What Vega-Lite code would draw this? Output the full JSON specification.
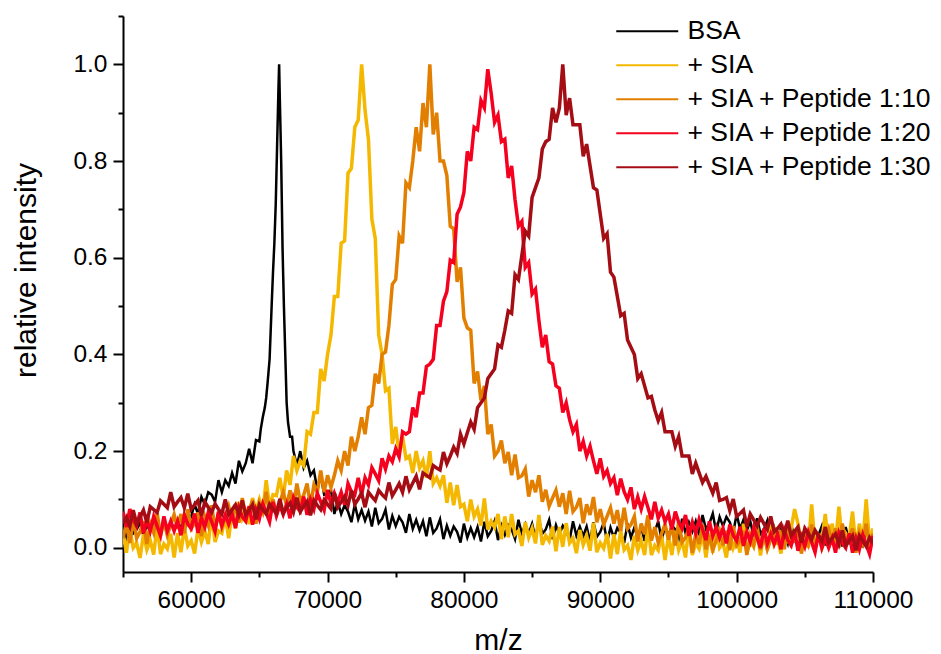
{
"$schema":"https://vega.github.io/schema/vega-lite/v6.json",
"width":750,"height":556,
"autosize":{"type":"none"},
"padding":{"left":123,"top":16,"right":68,"bottom":82},
"background":"white",
"config":{"view":{"stroke":null},"font":"Liberation Sans"},
"datasets":{
"bsa":[
{"x":55000,"y":0.04},{"x":55250,"y":0.021},{"x":55500,"y":0.05},{"x":55750,"y":0.03},
{"x":56000,"y":0.038},{"x":56250,"y":0.052},{"x":56500,"y":0.025},{"x":56750,"y":0.046},
{"x":57000,"y":0.035},{"x":57250,"y":0.05},{"x":57500,"y":0.042},{"x":57750,"y":0.03},
{"x":58000,"y":0.055},{"x":58250,"y":0.038},{"x":58500,"y":0.052},{"x":58750,"y":0.04},
{"x":59000,"y":0.055},{"x":59250,"y":0.04},{"x":59500,"y":0.065},{"x":59750,"y":0.05},
{"x":60000,"y":0.065},{"x":60250,"y":0.09},{"x":60500,"y":0.07},{"x":60750,"y":0.105},
{"x":61000,"y":0.09},{"x":61250,"y":0.115},{"x":61500,"y":0.11},{"x":61750,"y":0.095},
{"x":62000,"y":0.14},{"x":62250,"y":0.115},{"x":62500,"y":0.14},{"x":62750,"y":0.128},
{"x":63000,"y":0.155},{"x":63250,"y":0.133},{"x":63500,"y":0.18},{"x":63750,"y":0.158},
{"x":64000,"y":0.175},{"x":64250,"y":0.205},{"x":64500,"y":0.175},{"x":64750,"y":0.223},
{"x":65000,"y":0.22},{"x":65100,"y":0.245},{"x":65250,"y":0.27},{"x":65400,"y":0.29},{"x":65500,"y":0.31},{"x":65600,"y":0.34},{"x":65750,"y":0.39},{"x":65900,"y":0.5},
{"x":66000,"y":0.57},{"x":66100,"y":0.63},{"x":66200,"y":0.71},{"x":66250,"y":0.77},{"x":66300,"y":0.83},{"x":66400,"y":0.95},{"x":66450,"y":1.0},{"x":66500,"y":0.93},{"x":66600,"y":0.8},{"x":66700,"y":0.62},{"x":66750,"y":0.56},{"x":66800,"y":0.5},{"x":66900,"y":0.4},
{"x":67000,"y":0.3},{"x":67100,"y":0.26},{"x":67250,"y":0.23},{"x":67400,"y":0.23},{"x":67500,"y":0.2},{"x":67750,"y":0.17},
{"x":68000,"y":0.2},{"x":68250,"y":0.165},{"x":68500,"y":0.18},{"x":68750,"y":0.15},
{"x":69000,"y":0.16},{"x":69250,"y":0.12},{"x":69500,"y":0.15},{"x":69750,"y":0.11},
{"x":70000,"y":0.11},{"x":70250,"y":0.12},{"x":70500,"y":0.07},{"x":70750,"y":0.095},
{"x":71000,"y":0.07},{"x":71250,"y":0.088},{"x":71500,"y":0.075},{"x":71750,"y":0.053},
{"x":72000,"y":0.09},{"x":72250,"y":0.059},{"x":72500,"y":0.078},{"x":72750,"y":0.056},
{"x":73000,"y":0.075},{"x":73250,"y":0.044},{"x":73500,"y":0.083},{"x":73750,"y":0.051},
{"x":74000,"y":0.06},{"x":74250,"y":0.079},{"x":74500,"y":0.038},{"x":74750,"y":0.066},
{"x":75000,"y":0.045},{"x":75250,"y":0.064},{"x":75500,"y":0.053},{"x":75750,"y":0.031},
{"x":76000,"y":0.07},{"x":76250,"y":0.039},{"x":76500,"y":0.058},{"x":76750,"y":0.036},
{"x":77000,"y":0.055},{"x":77250,"y":0.024},{"x":77500,"y":0.063},{"x":77750,"y":0.031},
{"x":78000,"y":0.04},{"x":78250,"y":0.059},{"x":78500,"y":0.018},{"x":78750,"y":0.046},
{"x":79000,"y":0.025},{"x":79250,"y":0.044},{"x":79500,"y":0.033},{"x":79750,"y":0.011},
{"x":80000,"y":0.05},{"x":80250,"y":0.021},{"x":80500,"y":0.041},{"x":80750,"y":0.022},
{"x":81000,"y":0.043},{"x":81250,"y":0.013},{"x":81500,"y":0.054},{"x":81750,"y":0.024},
{"x":82000,"y":0.035},{"x":82250,"y":0.055},{"x":82500,"y":0.016},{"x":82750,"y":0.046},
{"x":83000,"y":0.027},{"x":83250,"y":0.047},{"x":83500,"y":0.038},{"x":83750,"y":0.018},
{"x":84000,"y":0.058},{"x":84250,"y":0.029},{"x":84500,"y":0.049},{"x":84750,"y":0.03},
{"x":85000,"y":0.05},{"x":85250,"y":0.02},{"x":85500,"y":0.059},{"x":85750,"y":0.029},
{"x":86000,"y":0.038},{"x":86250,"y":0.058},{"x":86500,"y":0.018},{"x":86750,"y":0.047},
{"x":87000,"y":0.027},{"x":87250,"y":0.046},{"x":87500,"y":0.036},{"x":87750,"y":0.015},
{"x":88000,"y":0.055},{"x":88250,"y":0.025},{"x":88500,"y":0.044},{"x":88750,"y":0.024},
{"x":89000,"y":0.044},{"x":89250,"y":0.013},{"x":89500,"y":0.053},{"x":89750,"y":0.023},
{"x":90000,"y":0.033},{"x":90250,"y":0.052},{"x":90500,"y":0.012},{"x":90750,"y":0.042},
{"x":91000,"y":0.021},{"x":91250,"y":0.041},{"x":91500,"y":0.031},{"x":91750,"y":0.01},
{"x":92000,"y":0.05},{"x":92250,"y":0.021},{"x":92500,"y":0.042},{"x":92750,"y":0.022},
{"x":93000,"y":0.043},{"x":93250,"y":0.014},{"x":93500,"y":0.055},{"x":93750,"y":0.025},
{"x":94000,"y":0.034},{"x":94250,"y":0.055},{"x":94500,"y":0.015},{"x":94750,"y":0.045},
{"x":95000,"y":0.025},{"x":95250,"y":0.046},{"x":95500,"y":0.038},{"x":95750,"y":0.019},
{"x":96000,"y":0.06},{"x":96250,"y":0.031},{"x":96500,"y":0.053},{"x":96750,"y":0.034},
{"x":97000,"y":0.055},{"x":97250,"y":0.026},{"x":97500,"y":0.068},{"x":97750,"y":0.039},
{"x":98000,"y":0.05},{"x":98250,"y":0.071},{"x":98500,"y":0.033},{"x":98750,"y":0.064},
{"x":99000,"y":0.045},{"x":99250,"y":0.064},{"x":99500,"y":0.053},{"x":99750,"y":0.031},
{"x":100000,"y":0.07},{"x":100250,"y":0.039},{"x":100500,"y":0.058},{"x":100750,"y":0.036},
{"x":101000,"y":0.055},{"x":101250,"y":0.023},{"x":101500,"y":0.061},{"x":101750,"y":0.029},
{"x":102000,"y":0.038},{"x":102250,"y":0.056},{"x":102500,"y":0.014},{"x":102750,"y":0.042},
{"x":103000,"y":0.02},{"x":103250,"y":0.04},{"x":103500,"y":0.029},{"x":103750,"y":0.009},
{"x":104000,"y":0.049},{"x":104250,"y":0.018},{"x":104500,"y":0.038},{"x":104750,"y":0.018},
{"x":105000,"y":0.037},{"x":105250,"y":0.007},{"x":105500,"y":0.047},{"x":105750,"y":0.016},
{"x":106000,"y":0.026},{"x":106250,"y":0.045},{"x":106500,"y":0.005},{"x":106750,"y":0.035},
{"x":107000,"y":0.014},{"x":107250,"y":0.034},{"x":107500,"y":0.024},{"x":107750,"y":0.003},
{"x":108000,"y":0.043},{"x":108250,"y":0.013},{"x":108500,"y":0.032},{"x":108750,"y":0.012},
{"x":109000,"y":0.031},{"x":109250,"y":0.001},{"x":109500,"y":0.041},{"x":109750,"y":0.01},
{"x":110000,"y":0.02}
],
"sia":[
{"x":55000,"y":0.03},{"x":55250,"y":-0.01},{"x":55500,"y":0.04},{"x":55750,"y":0},
{"x":56000,"y":0.01},{"x":56250,"y":-0.021},{"x":56500,"y":0.028},{"x":56750,"y":-0.004},
{"x":57000,"y":0.015},{"x":57250,"y":-0.014},{"x":57500,"y":0.046},{"x":57750,"y":-0.013},
{"x":58000,"y":0.008},{"x":58250,"y":-0.002},{"x":58500,"y":0.029},{"x":58750,"y":-0.02},
{"x":59000,"y":0.03},{"x":59250,"y":-0.009},{"x":59500,"y":0.042},{"x":59750,"y":0.004},
{"x":60000,"y":0.015},{"x":60250,"y":-0.012},{"x":60500,"y":0.04},{"x":60750,"y":0.012},
{"x":61000,"y":0.035},{"x":61250,"y":0.008},{"x":61500,"y":0.07},{"x":61750,"y":0.012},
{"x":62000,"y":0.035},{"x":62250,"y":0.03},{"x":62500,"y":0.065},{"x":62750,"y":0.02},
{"x":63000,"y":0.075},{"x":63250,"y":0.04},{"x":63500,"y":0.095},{"x":63750,"y":0.06},
{"x":64000,"y":0.075},{"x":64250,"y":0.049},{"x":64500,"y":0.103},{"x":64750,"y":0.076},
{"x":65000,"y":0.1},{"x":65250,"y":0.075},{"x":65500,"y":0.14},{"x":65750,"y":0.085},
{"x":66000,"y":0.11},{"x":66250,"y":0.108},{"x":66500,"y":0.145},{"x":66750,"y":0.103},
{"x":67000,"y":0.16},{"x":67250,"y":0.13},{"x":67500,"y":0.19},{"x":67750,"y":0.16},
{"x":68000,"y":0.18},{"x":68250,"y":0.17},{"x":68500,"y":0.24},{"x":68750,"y":0.235},
{"x":69000,"y":0.28},{"x":69250,"y":0.28},{"x":69500,"y":0.37},{"x":69750,"y":0.345},
{"x":70000,"y":0.4},{"x":70250,"y":0.44},{"x":70500,"y":0.52},{"x":70750,"y":0.52},
{"x":71000,"y":0.63},{"x":71250,"y":0.635},{"x":71500,"y":0.775},{"x":71750,"y":0.785},
{"x":72000,"y":0.87},{"x":72250,"y":0.885},{"x":72500,"y":1.0},{"x":72750,"y":0.905},
{"x":73000,"y":0.845},{"x":73250,"y":0.68},{"x":73500,"y":0.64},{"x":73750,"y":0.44},
{"x":74000,"y":0.4},{"x":74250,"y":0.325},{"x":74500,"y":0.33},{"x":74750,"y":0.215},
{"x":75000,"y":0.25},{"x":75250,"y":0.195},{"x":75500,"y":0.23},{"x":75750,"y":0.185},
{"x":76000,"y":0.19},{"x":76250,"y":0.155},{"x":76500,"y":0.2},{"x":76750,"y":0.165},
{"x":77000,"y":0.18},{"x":77250,"y":0.145},{"x":77500,"y":0.2},{"x":77750,"y":0.133},
{"x":78000,"y":0.145},{"x":78250,"y":0.128},{"x":78500,"y":0.15},{"x":78750,"y":0.093},
{"x":79000,"y":0.135},{"x":79250,"y":0.088},{"x":79500,"y":0.13},{"x":79750,"y":0.085},
{"x":80000,"y":0.09},{"x":80250,"y":0.055},{"x":80500,"y":0.1},{"x":80750,"y":0.065},
{"x":81000,"y":0.08},{"x":81250,"y":0.046},{"x":81500,"y":0.102},{"x":81750,"y":0.038},
{"x":82000,"y":0.055},{"x":82250,"y":0.042},{"x":82500,"y":0.07},{"x":82750,"y":0.018},
{"x":83000,"y":0.065},{"x":83250,"y":0.022},{"x":83500,"y":0.07},{"x":83750,"y":0.028},
{"x":84000,"y":0.035},{"x":84250,"y":0.004},{"x":84500,"y":0.053},{"x":84750,"y":0.021},
{"x":85000,"y":0.04},{"x":85250,"y":0.009},{"x":85500,"y":0.068},{"x":85750,"y":0.006},
{"x":86000,"y":0.025},{"x":86250,"y":0.014},{"x":86500,"y":0.044},{"x":86750,"y":-0.007},
{"x":87000,"y":0.043},{"x":87250,"y":0.002},{"x":87500,"y":0.051},{"x":87750,"y":0.01},
{"x":88000,"y":0.02},{"x":88250,"y":-0.011},{"x":88500,"y":0.037},{"x":88750,"y":0.006},
{"x":89000,"y":0.025},{"x":89250,"y":-0.006},{"x":89500,"y":0.052},{"x":89750,"y":-0.009},
{"x":90000,"y":0.01},{"x":90250,"y":-0.001},{"x":90500,"y":0.029},{"x":90750,"y":-0.022},
{"x":91000,"y":0.028},{"x":91250,"y":-0.013},{"x":91500,"y":0.036},{"x":91750,"y":-0.004},
{"x":92000,"y":0.005},{"x":92250,"y":-0.025},{"x":92500,"y":0.025},{"x":92750,"y":-0.005},
{"x":93000,"y":0.015},{"x":93250,"y":-0.015},{"x":93500,"y":0.045},{"x":93750,"y":-0.015},
{"x":94000,"y":0.005},{"x":94250,"y":-0.005},{"x":94500,"y":0.025},{"x":94750,"y":-0.025},
{"x":95000,"y":0.025},{"x":95250,"y":-0.015},{"x":95500,"y":0.035},{"x":95750,"y":-0.005},
{"x":96000,"y":0.015},{"x":96250,"y":-0.02},{"x":96500,"y":0.045},{"x":96750,"y":-0.015},
{"x":97000,"y":0.01},{"x":97250,"y":-0.002},{"x":97500,"y":0.03},{"x":97750,"y":-0.02},
{"x":98000,"y":0.03},{"x":98250,"y":-0.01},{"x":98500,"y":0.04},{"x":98750,"y":0},
{"x":99000,"y":0.01},{"x":99250,"y":-0.02},{"x":99500,"y":0.03},{"x":99750,"y":0},
{"x":100000,"y":0.02},{"x":100250,"y":-0.01},{"x":100500,"y":0.05},{"x":100750,"y":-0.01},
{"x":101000,"y":0.012},{"x":101250,"y":0.002},{"x":101500,"y":0.033},{"x":101750,"y":-0.016},
{"x":102000,"y":0.035},{"x":102250,"y":-0.005},{"x":102500,"y":0.046},{"x":102750,"y":0.006},
{"x":103000,"y":0.018},{"x":103250,"y":-0.012},{"x":103500,"y":0.04},{"x":103750,"y":0.01},
{"x":104000,"y":0.04},{"x":104250,"y":0.08},{"x":104500,"y":0.05},{"x":104750,"y":0.01},
{"x":105000,"y":0.03},{"x":105250,"y":0},{"x":105500,"y":0.09},{"x":105750,"y":0.005},
{"x":106000,"y":0.025},{"x":106250,"y":0.015},{"x":106500,"y":0.07},{"x":106750,"y":0},
{"x":107000,"y":0.05},{"x":107250,"y":0.01},{"x":107500,"y":0.085},{"x":107750,"y":0.01},
{"x":108000,"y":0.03},{"x":108250,"y":0.02},{"x":108500,"y":0.075},{"x":108750,"y":0},
{"x":109000,"y":0.05},{"x":109250,"y":0.01},{"x":109500,"y":0.1},{"x":109750,"y":0.01},
{"x":110000,"y":0.04}
],
"p10":[
{"x":55000,"y":0.02},{"x":55250,"y":0.05},{"x":55500,"y":0.01},{"x":55750,"y":0.06},
{"x":56000,"y":0.02},{"x":56250,"y":0.033},{"x":56500,"y":0.055},{"x":56750,"y":0.008},
{"x":57000,"y":0.05},{"x":57250,"y":0.031},{"x":57500,"y":0.073},{"x":57750,"y":0.024},
{"x":58000,"y":0.055},{"x":58250,"y":0.026},{"x":58500,"y":0.048},{"x":58750,"y":0.069},
{"x":59000,"y":0.04},{"x":59250,"y":0.07},{"x":59500,"y":0.03},{"x":59750,"y":0.08},
{"x":60000,"y":0.04},{"x":60250,"y":0.051},{"x":60500,"y":0.073},{"x":60750,"y":0.024},
{"x":61000,"y":0.065},{"x":61250,"y":0.046},{"x":61500,"y":0.088},{"x":61750,"y":0.039},
{"x":62000,"y":0.07},{"x":62250,"y":0.042},{"x":62500,"y":0.064},{"x":62750,"y":0.086},
{"x":63000,"y":0.058},{"x":63250,"y":0.09},{"x":63500,"y":0.052},{"x":63750,"y":0.103},
{"x":64000,"y":0.065},{"x":64250,"y":0.077},{"x":64500,"y":0.099},{"x":64750,"y":0.05},
{"x":65000,"y":0.092},{"x":65250,"y":0.074},{"x":65500,"y":0.116},{"x":65750,"y":0.068},
{"x":66000,"y":0.1},{"x":66250,"y":0.072},{"x":66500,"y":0.094},{"x":66750,"y":0.115},
{"x":67000,"y":0.087},{"x":67250,"y":0.119},{"x":67500,"y":0.081},{"x":67750,"y":0.133},
{"x":68000,"y":0.095},{"x":68250,"y":0.109},{"x":68500,"y":0.133},{"x":68750,"y":0.086},
{"x":69000,"y":0.13},{"x":69250,"y":0.115},{"x":69500,"y":0.16},{"x":69750,"y":0.115},
{"x":70000,"y":0.15},{"x":70250,"y":0.125},{"x":70500,"y":0.15},{"x":70750,"y":0.18},
{"x":71000,"y":0.16},{"x":71250,"y":0.2},{"x":71500,"y":0.17},{"x":71750,"y":0.23},
{"x":72000,"y":0.2},{"x":72250,"y":0.23},{"x":72500,"y":0.27},{"x":72750,"y":0.235},
{"x":73000,"y":0.29},{"x":73250,"y":0.295},{"x":73500,"y":0.36},{"x":73750,"y":0.34},
{"x":74000,"y":0.4},{"x":74250,"y":0.405},{"x":74500,"y":0.46},{"x":74750,"y":0.545},
{"x":75000,"y":0.555},{"x":75250,"y":0.645},{"x":75500,"y":0.63},{"x":75750,"y":0.755},
{"x":76000,"y":0.745},{"x":76250,"y":0.8},{"x":76500,"y":0.87},{"x":76750,"y":0.82},
{"x":77000,"y":0.92},{"x":77250,"y":0.87},{"x":77500,"y":1.0},{"x":77750,"y":0.855},
{"x":78000,"y":0.9},{"x":78250,"y":0.8},{"x":78500,"y":0.8},{"x":78750,"y":0.77},
{"x":79000,"y":0.665},{"x":79250,"y":0.66},{"x":79500,"y":0.55},{"x":79750,"y":0.58},
{"x":80000,"y":0.475},{"x":80250,"y":0.455},{"x":80500,"y":0.45},{"x":80750,"y":0.34},
{"x":81000,"y":0.365},{"x":81250,"y":0.305},{"x":81500,"y":0.335},{"x":81750,"y":0.235},
{"x":82000,"y":0.255},{"x":82250,"y":0.19},{"x":82500,"y":0.2},{"x":82750,"y":0.222},
{"x":83000,"y":0.175},{"x":83250,"y":0.198},{"x":83500,"y":0.15},{"x":83750,"y":0.193},
{"x":84000,"y":0.145},{"x":84250,"y":0.149},{"x":84500,"y":0.163},{"x":84750,"y":0.106},
{"x":85000,"y":0.14},{"x":85250,"y":0.115},{"x":85500,"y":0.15},{"x":85750,"y":0.095},
{"x":86000,"y":0.12},{"x":86250,"y":0.086},{"x":86500,"y":0.103},{"x":86750,"y":0.119},
{"x":87000,"y":0.085},{"x":87250,"y":0.113},{"x":87500,"y":0.07},{"x":87750,"y":0.118},
{"x":88000,"y":0.075},{"x":88250,"y":0.084},{"x":88500,"y":0.103},{"x":88750,"y":0.051},
{"x":89000,"y":0.09},{"x":89250,"y":0.068},{"x":89500,"y":0.105},{"x":89750,"y":0.053},
{"x":90000,"y":0.08},{"x":90250,"y":0.048},{"x":90500,"y":0.065},{"x":90750,"y":0.083},
{"x":91000,"y":0.05},{"x":91250,"y":0.078},{"x":91500,"y":0.035},{"x":91750,"y":0.083},
{"x":92000,"y":0.04},{"x":92250,"y":0.048},{"x":92500,"y":0.065},{"x":92750,"y":0.013},
{"x":93000,"y":0.05},{"x":93250,"y":0.028},{"x":93500,"y":0.067},{"x":93750,"y":0.015},
{"x":94000,"y":0.043},{"x":94250,"y":0.011},{"x":94500,"y":0.03},{"x":94750,"y":0.049},
{"x":95000,"y":0.017},{"x":95250,"y":0.046},{"x":95500,"y":0.005},{"x":95750,"y":0.054},
{"x":96000,"y":0.012},{"x":96250,"y":0.021},{"x":96500,"y":0.04},{"x":96750,"y":-0.01},
{"x":97000,"y":0.029},{"x":97250,"y":0.008},{"x":97500,"y":0.048},{"x":97750,"y":-0.003},
{"x":98000,"y":0.026},{"x":98250,"y":-0.004},{"x":98500,"y":0.015},{"x":98750,"y":0.035},
{"x":99000,"y":0.005},{"x":99250,"y":0.035},{"x":99500,"y":-0.005},{"x":99750,"y":0.045},
{"x":100000,"y":0.005},{"x":100250,"y":0.015},{"x":100500,"y":0.035},{"x":100750,"y":-0.015},
{"x":101000,"y":0.026},{"x":101250,"y":0.006},{"x":101500,"y":0.046},{"x":101750,"y":-0.004},
{"x":102000,"y":0.027},{"x":102250,"y":-0.003},{"x":102500,"y":0.017},{"x":102750,"y":0.037},
{"x":103000,"y":0.007},{"x":103250,"y":0.037},{"x":103500,"y":-0.003},{"x":103750,"y":0.048},
{"x":104000,"y":0.008},{"x":104250,"y":0.018},{"x":104500,"y":0.038},{"x":104750,"y":-0.012},
{"x":105000,"y":0.028},{"x":105250,"y":0.008},{"x":105500,"y":0.048},{"x":105750,"y":-0.001},
{"x":106000,"y":0.029},{"x":106250,"y":-0.001},{"x":106500,"y":0.019},{"x":106750,"y":0.039},
{"x":107000,"y":0.01},{"x":107250,"y":0.04},{"x":107500,"y":0},{"x":107750,"y":0.05},
{"x":108000,"y":0.01},{"x":108250,"y":0.02},{"x":108500,"y":0.04},{"x":108750,"y":-0.01},
{"x":109000,"y":0.03},{"x":109250,"y":0.01},{"x":109500,"y":0.05},{"x":109750,"y":0},
{"x":110000,"y":0.03}
],
"p20":[
{"x":55000,"y":0.075},{"x":55250,"y":0.043},{"x":55500,"y":0.08},{"x":55750,"y":0.058},
{"x":56000,"y":0.045},{"x":56250,"y":0.073},{"x":56500,"y":0.03},{"x":56750,"y":0.058},
{"x":57000,"y":0.035},{"x":57250,"y":0.065},{"x":57500,"y":0.045},{"x":57750,"y":0.025},
{"x":58000,"y":0.065},{"x":58250,"y":0.035},{"x":58500,"y":0.055},{"x":58750,"y":0.035},
{"x":59000,"y":0.055},{"x":59250,"y":0.026},{"x":59500,"y":0.068},{"x":59750,"y":0.049},
{"x":60000,"y":0.04},{"x":60250,"y":0.071},{"x":60500,"y":0.031},{"x":60750,"y":0.062},
{"x":61000,"y":0.043},{"x":61250,"y":0.073},{"x":61500,"y":0.054},{"x":61750,"y":0.034},
{"x":62000,"y":0.075},{"x":62250,"y":0.046},{"x":62500,"y":0.068},{"x":62750,"y":0.049},
{"x":63000,"y":0.07},{"x":63250,"y":0.041},{"x":63500,"y":0.083},{"x":63750,"y":0.064},
{"x":64000,"y":0.055},{"x":64250,"y":0.086},{"x":64500,"y":0.048},{"x":64750,"y":0.079},
{"x":65000,"y":0.06},{"x":65250,"y":0.091},{"x":65500,"y":0.073},{"x":65750,"y":0.054},
{"x":66000,"y":0.095},{"x":66250,"y":0.066},{"x":66500,"y":0.088},{"x":66750,"y":0.069},
{"x":67000,"y":0.09},{"x":67250,"y":0.061},{"x":67500,"y":0.103},{"x":67750,"y":0.084},
{"x":68000,"y":0.075},{"x":68250,"y":0.106},{"x":68500,"y":0.068},{"x":68750,"y":0.099},
{"x":69000,"y":0.08},{"x":69250,"y":0.113},{"x":69500,"y":0.095},{"x":69750,"y":0.078},
{"x":70000,"y":0.12},{"x":70250,"y":0.091},{"x":70500,"y":0.113},{"x":70750,"y":0.094},
{"x":71000,"y":0.115},{"x":71250,"y":0.089},{"x":71500,"y":0.133},{"x":71750,"y":0.116},
{"x":72000,"y":0.11},{"x":72250,"y":0.145},{"x":72500,"y":0.11},{"x":72750,"y":0.145},
{"x":73000,"y":0.13},{"x":73250,"y":0.166},{"x":73500,"y":0.153},{"x":73750,"y":0.139},
{"x":74000,"y":0.185},{"x":74250,"y":0.163},{"x":74500,"y":0.19},{"x":74750,"y":0.178},
{"x":75000,"y":0.205},{"x":75250,"y":0.188},{"x":75500,"y":0.24},{"x":75750,"y":0.235},
{"x":76000,"y":0.24},{"x":76250,"y":0.29},{"x":76500,"y":0.27},{"x":76750,"y":0.32},
{"x":77000,"y":0.32},{"x":77250,"y":0.375},{"x":77500,"y":0.38},{"x":77750,"y":0.39},
{"x":78000,"y":0.46},{"x":78250,"y":0.46},{"x":78500,"y":0.51},{"x":78750,"y":0.53},
{"x":79000,"y":0.595},{"x":79250,"y":0.59},{"x":79500,"y":0.69},{"x":79750,"y":0.705},
{"x":80000,"y":0.735},{"x":80250,"y":0.82},{"x":80500,"y":0.8},{"x":80750,"y":0.87},
{"x":81000,"y":0.865},{"x":81250,"y":0.925},{"x":81500,"y":0.91},{"x":81750,"y":0.99},
{"x":82000,"y":0.94},{"x":82250,"y":0.88},{"x":82500,"y":0.895},{"x":82750,"y":0.84},
{"x":83000,"y":0.845},{"x":83250,"y":0.765},{"x":83500,"y":0.79},{"x":83750,"y":0.72},
{"x":84000,"y":0.665},{"x":84250,"y":0.675},{"x":84500,"y":0.58},{"x":84750,"y":0.59},
{"x":85000,"y":0.525},{"x":85250,"y":0.535},{"x":85500,"y":0.47},{"x":85750,"y":0.415},
{"x":86000,"y":0.44},{"x":86250,"y":0.385},{"x":86500,"y":0.38},{"x":86750,"y":0.335},
{"x":87000,"y":0.33},{"x":87250,"y":0.28},{"x":87500,"y":0.3},{"x":87750,"y":0.265},
{"x":88000,"y":0.24},{"x":88250,"y":0.255},{"x":88500,"y":0.2},{"x":88750,"y":0.22},
{"x":89000,"y":0.19},{"x":89250,"y":0.21},{"x":89500,"y":0.18},{"x":89750,"y":0.153},
{"x":90000,"y":0.185},{"x":90250,"y":0.148},{"x":90500,"y":0.16},{"x":90750,"y":0.133},
{"x":91000,"y":0.145},{"x":91250,"y":0.109},{"x":91500,"y":0.143},{"x":91750,"y":0.116},
{"x":92000,"y":0.1},{"x":92250,"y":0.125},{"x":92500,"y":0.08},{"x":92750,"y":0.105},
{"x":93000,"y":0.08},{"x":93250,"y":0.106},{"x":93500,"y":0.083},{"x":93750,"y":0.059},
{"x":94000,"y":0.095},{"x":94250,"y":0.061},{"x":94500,"y":0.078},{"x":94750,"y":0.054},
{"x":95000,"y":0.07},{"x":95250,"y":0.038},{"x":95500,"y":0.075},{"x":95750,"y":0.053},
{"x":96000,"y":0.04},{"x":96250,"y":0.068},{"x":96500,"y":0.025},{"x":96750,"y":0.053},
{"x":97000,"y":0.03},{"x":97250,"y":0.059},{"x":97500,"y":0.038},{"x":97750,"y":0.016},
{"x":98000,"y":0.055},{"x":98250,"y":0.024},{"x":98500,"y":0.043},{"x":98750,"y":0.021},
{"x":99000,"y":0.04},{"x":99250,"y":0.009},{"x":99500,"y":0.048},{"x":99750,"y":0.026},
{"x":100000,"y":0.015},{"x":100250,"y":0.044},{"x":100500,"y":0.004},{"x":100750,"y":0.033},
{"x":101000,"y":0.013},{"x":101250,"y":0.042},{"x":101500,"y":0.021},{"x":101750,"y":0},
{"x":102000,"y":0.04},{"x":102250,"y":0.009},{"x":102500,"y":0.029},{"x":102750,"y":0.008},
{"x":103000,"y":0.028},{"x":103250,"y":-0.003},{"x":103500,"y":0.036},{"x":103750,"y":0.016},
{"x":104000,"y":0.005},{"x":104250,"y":0.034},{"x":104500,"y":-0.006},{"x":104750,"y":0.023},
{"x":105000,"y":0.003},{"x":105250,"y":0.032},{"x":105500,"y":0.011},{"x":105750,"y":-0.009},
{"x":106000,"y":0.03},{"x":106250,"y":0},{"x":106500,"y":0.02},{"x":106750,"y":0},
{"x":107000,"y":0.02},{"x":107250,"y":-0.01},{"x":107500,"y":0.03},{"x":107750,"y":0.01},
{"x":108000,"y":0},{"x":108250,"y":0.03},{"x":108500,"y":-0.01},{"x":108750,"y":0.02},
{"x":109000,"y":-0.003},{"x":109250,"y":0.027},{"x":109500,"y":0.007},{"x":109750,"y":-0.013},
{"x":110000,"y":0.025}
],
"p30":[
{"x":55000,"y":0.05},{"x":55250,"y":0.063},{"x":55500,"y":0.045},{"x":55750,"y":0.078},
{"x":56000,"y":0.05},{"x":56250,"y":0.064},{"x":56500,"y":0.078},{"x":56750,"y":0.052},
{"x":57000,"y":0.085},{"x":57250,"y":0.079},{"x":57500,"y":0.073},{"x":57750,"y":0.097},
{"x":58000,"y":0.09},{"x":58250,"y":0.083},{"x":58500,"y":0.115},{"x":58750,"y":0.085},
{"x":59000,"y":0.095},{"x":59250,"y":0.104},{"x":59500,"y":0.083},{"x":59750,"y":0.112},
{"x":60000,"y":0.08},{"x":60250,"y":0.089},{"x":60500,"y":0.098},{"x":60750,"y":0.066},
{"x":61000,"y":0.095},{"x":61250,"y":0.084},{"x":61500,"y":0.073},{"x":61750,"y":0.091},
{"x":62000,"y":0.08},{"x":62250,"y":0.07},{"x":62500,"y":0.1},{"x":62750,"y":0.069},
{"x":63000,"y":0.079},{"x":63250,"y":0.089},{"x":63500,"y":0.069},{"x":63750,"y":0.098},
{"x":64000,"y":0.068},{"x":64250,"y":0.078},{"x":64500,"y":0.089},{"x":64750,"y":0.059},
{"x":65000,"y":0.089},{"x":65250,"y":0.079},{"x":65500,"y":0.07},{"x":65750,"y":0.09},
{"x":66000,"y":0.08},{"x":66250,"y":0.071},{"x":66500,"y":0.101},{"x":66750,"y":0.072},
{"x":67000,"y":0.083},{"x":67250,"y":0.093},{"x":67500,"y":0.074},{"x":67750,"y":0.104},
{"x":68000,"y":0.075},{"x":68250,"y":0.086},{"x":68500,"y":0.096},{"x":68750,"y":0.067},
{"x":69000,"y":0.098},{"x":69250,"y":0.088},{"x":69500,"y":0.079},{"x":69750,"y":0.099},
{"x":70000,"y":0.09},{"x":70250,"y":0.081},{"x":70500,"y":0.113},{"x":70750,"y":0.084},
{"x":71000,"y":0.095},{"x":71250,"y":0.106},{"x":71500,"y":0.088},{"x":71750,"y":0.119},
{"x":72000,"y":0.09},{"x":72250,"y":0.101},{"x":72500,"y":0.113},{"x":72750,"y":0.084},
{"x":73000,"y":0.115},{"x":73250,"y":0.106},{"x":73500,"y":0.098},{"x":73750,"y":0.119},
{"x":74000,"y":0.11},{"x":74250,"y":0.103},{"x":74500,"y":0.135},{"x":74750,"y":0.108},
{"x":75000,"y":0.12},{"x":75250,"y":0.133},{"x":75500,"y":0.115},{"x":75750,"y":0.148},
{"x":76000,"y":0.12},{"x":76250,"y":0.134},{"x":76500,"y":0.148},{"x":76750,"y":0.121},
{"x":77000,"y":0.155},{"x":77250,"y":0.15},{"x":77500,"y":0.145},{"x":77750,"y":0.17},
{"x":78000,"y":0.165},{"x":78250,"y":0.161},{"x":78500,"y":0.198},{"x":78750,"y":0.174},
{"x":79000,"y":0.19},{"x":79250,"y":0.208},{"x":79500,"y":0.195},{"x":79750,"y":0.235},
{"x":80000,"y":0.215},{"x":80250,"y":0.238},{"x":80500,"y":0.26},{"x":80750,"y":0.245},
{"x":81000,"y":0.29},{"x":81250,"y":0.3},{"x":81500,"y":0.31},{"x":81750,"y":0.35},
{"x":82000,"y":0.36},{"x":82250,"y":0.37},{"x":82500,"y":0.42},{"x":82750,"y":0.415},
{"x":83000,"y":0.45},{"x":83250,"y":0.49},{"x":83500,"y":0.485},{"x":83750,"y":0.565},
{"x":84000,"y":0.555},{"x":84250,"y":0.605},{"x":84500,"y":0.655},{"x":84750,"y":0.645},
{"x":85000,"y":0.725},{"x":85250,"y":0.745},{"x":85500,"y":0.765},{"x":85750,"y":0.825},
{"x":86000,"y":0.84},{"x":86250,"y":0.845},{"x":86500,"y":0.91},{"x":86750,"y":0.88},
{"x":87000,"y":0.91},{"x":87250,"y":1.0},{"x":87500,"y":0.895},{"x":87750,"y":0.93},
{"x":88000,"y":0.875},{"x":88250,"y":0.875},{"x":88500,"y":0.875},{"x":88750,"y":0.81},
{"x":89000,"y":0.835},{"x":89250,"y":0.79},{"x":89500,"y":0.745},{"x":89750,"y":0.74},
{"x":90000,"y":0.69},{"x":90250,"y":0.64},{"x":90500,"y":0.65},{"x":90750,"y":0.57},
{"x":91000,"y":0.56},{"x":91250,"y":0.52},{"x":91500,"y":0.48},{"x":91750,"y":0.485},
{"x":92000,"y":0.43},{"x":92250,"y":0.415},{"x":92500,"y":0.4},{"x":92750,"y":0.35},
{"x":93000,"y":0.36},{"x":93250,"y":0.335},{"x":93500,"y":0.31},{"x":93750,"y":0.313},
{"x":94000,"y":0.285},{"x":94250,"y":0.263},{"x":94500,"y":0.28},{"x":94750,"y":0.24},
{"x":95000,"y":0.24},{"x":95250,"y":0.24},{"x":95500,"y":0.21},{"x":95750,"y":0.23},
{"x":96000,"y":0.19},{"x":96250,"y":0.19},{"x":96500,"y":0.19},{"x":96750,"y":0.153},
{"x":97000,"y":0.175},{"x":97250,"y":0.155},{"x":97500,"y":0.135},{"x":97750,"y":0.148},
{"x":98000,"y":0.13},{"x":98250,"y":0.113},{"x":98500,"y":0.135},{"x":98750,"y":0.098},
{"x":99000,"y":0.1},{"x":99250,"y":0.104},{"x":99500,"y":0.077},{"x":99750,"y":0.101},
{"x":100000,"y":0.065},{"x":100250,"y":0.071},{"x":100500,"y":0.078},{"x":100750,"y":0.044},
{"x":101000,"y":0.07},{"x":101250,"y":0.058},{"x":101500,"y":0.045},{"x":101750,"y":0.063},
{"x":102000,"y":0.05},{"x":102250,"y":0.038},{"x":102500,"y":0.065},{"x":102750,"y":0.033},
{"x":103000,"y":0.04},{"x":103250,"y":0.049},{"x":103500,"y":0.028},{"x":103750,"y":0.056},
{"x":104000,"y":0.025},{"x":104250,"y":0.034},{"x":104500,"y":0.043},{"x":104750,"y":0.011},
{"x":105000,"y":0.04},{"x":105250,"y":0.029},{"x":105500,"y":0.018},{"x":105750,"y":0.036},
{"x":106000,"y":0.025},{"x":106250,"y":0.014},{"x":106500,"y":0.043},{"x":106750,"y":0.011},
{"x":107000,"y":0.02},{"x":107250,"y":0.029},{"x":107500,"y":0.008},{"x":107750,"y":0.036},
{"x":108000,"y":0.005},{"x":108250,"y":0.015},{"x":108500,"y":0.025},{"x":108750,"y":-0.005},
{"x":109000,"y":0.025},{"x":109250,"y":0.014},{"x":109500,"y":0.003},{"x":109750,"y":0.021},
{"x":110000,"y":0.01}
]
},
"encoding":{
"x":{"field":"x","type":"quantitative",
 "scale":{"domain":[55000,110000],"nice":false,"zero":false},
 "axis":{"title":"m/z","grid":false,
  "values":[55000,60000,65000,70000,75000,80000,85000,90000,95000,100000,105000,110000],
  "format":"d","labelExpr":"datum.value % 10000 === 0 ? datum.label : ''",
  "labelFont":"Liberation Sans","labelFontSize":24.5,"labelColor":"#000000","labelPadding":6,"labelFlush":false,"labelOverlap":false,
  "domainColor":"#000000","domainWidth":2,
  "tickColor":"#000000","tickWidth":2,
  "tickSize":{"condition":{"test":"datum.value % 10000 !== 0","value":5},"value":10},
  "titleFont":"Liberation Sans","titleFontSize":30,"titleFontWeight":"normal","titleColor":"#000000",
  "titleBaseline":"alphabetic","titleY":77}},
"y":{"field":"y","type":"quantitative",
 "scale":{"domain":[-0.05,1.1],"nice":false,"zero":false},
 "axis":{"title":"relative intensity","grid":false,
  "values":[0,0.1,0.2,0.3,0.4,0.5,0.6,0.7,0.8,0.9,1.0,1.1],
  "labelExpr":"round(datum.value*10) % 2 === 0 ? format(datum.value, '.1f') : ''",
  "labelFont":"Liberation Sans","labelFontSize":24.5,"labelColor":"#000000","labelPadding":6,"labelFlush":false,"labelOverlap":false,
  "domainColor":"#000000","domainWidth":2,
  "tickColor":"#000000","tickWidth":2,
  "tickSize":{"condition":{"test":"round(datum.value*10) % 2 === 1","value":5},"value":10},
  "titleFont":"Liberation Sans","titleFontSize":30,"titleFontWeight":"normal","titleColor":"#000000",
  "titleAngle":270,"titleBaseline":"alphabetic","titleAlign":"center","titleX":-88,"titleY":254}}
},
"layer":[
{"data":{"name":"bsa"},"mark":{"type":"line","strokeWidth":2.5,"clip":true},
 "encoding":{"color":{"datum":"BSA","type":"nominal",
  "scale":{"domain":["BSA","+ SIA","+ SIA + Peptide 1:10","+ SIA + Peptide 1:20","+ SIA + Peptide 1:30"],
   "range":["#000000","#F5B800","#E37F00","#F5001E","#A50D15"]},
  "legend":{"orient":"none","legendX":485,"legendY":2,"title":null,"padding":0,
   "symbolType":"M-1,0L11.4,0","symbolSize":100,"symbolStrokeWidth":2,
   "labelFont":"Liberation Sans","labelFontSize":26.5,"labelColor":"#000000","labelOffset":53,"rowPadding":7,"labelLimit":400}}}},
{"data":{"name":"sia"},"mark":{"type":"line","strokeWidth":3.5,"clip":true},
 "encoding":{"color":{"datum":"+ SIA","type":"nominal"}}},
{"data":{"name":"p10"},"mark":{"type":"line","strokeWidth":3.5,"clip":true},
 "encoding":{"color":{"datum":"+ SIA + Peptide 1:10","type":"nominal"}}},
{"data":{"name":"p20"},"mark":{"type":"line","strokeWidth":3.5,"clip":true},
 "encoding":{"color":{"datum":"+ SIA + Peptide 1:20","type":"nominal"}}},
{"data":{"name":"p30"},"mark":{"type":"line","strokeWidth":3.5,"clip":true},
 "encoding":{"color":{"datum":"+ SIA + Peptide 1:30","type":"nominal"}}}
]
}
